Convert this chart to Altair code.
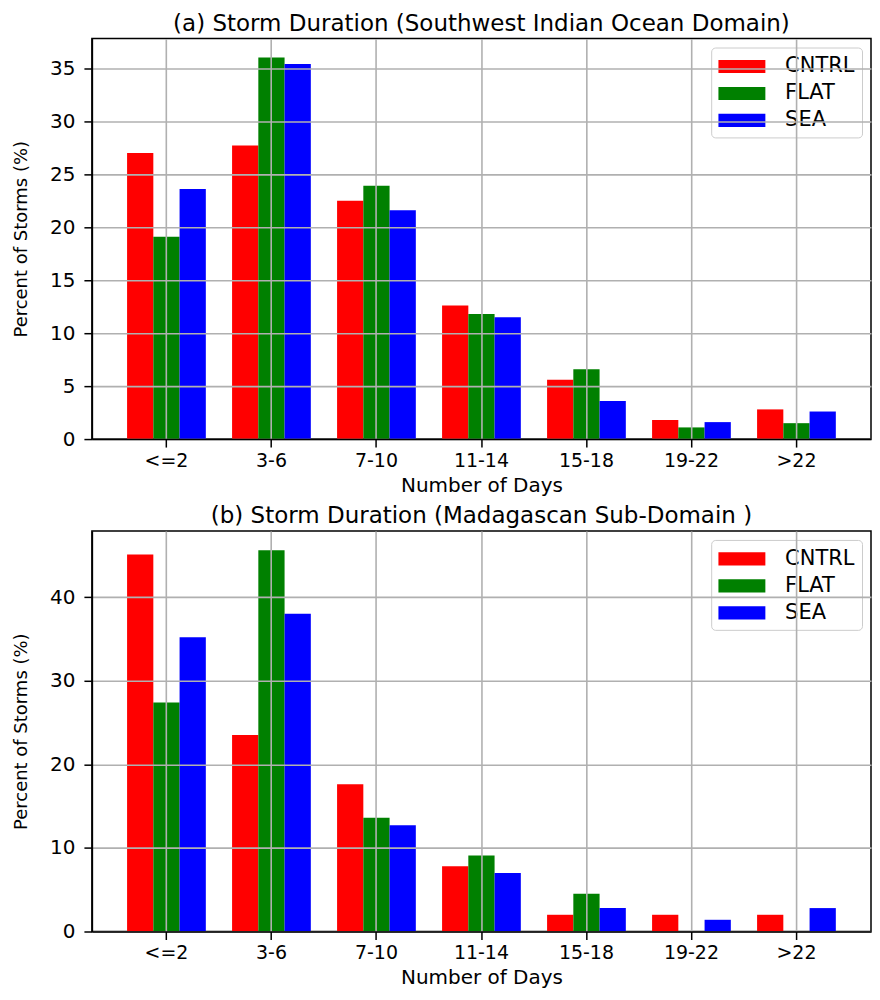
import altair as alt
import pandas as pd

categories = ["<=2", "3-6", "7-10", "11-14", "15-18", "19-22", ">22"]
experiments = ["CNTRL", "FLAT", "SEA"]
colors = ["#ff0000", "#008000", "#0000ff"]

cntrl_a = [27.0, 27.7, 22.5, 12.6, 5.6, 1.8, 2.8]
flat_a = [19.1, 36.0, 23.9, 11.8, 6.6, 1.1, 1.5]
sea_a = [23.6, 35.4, 21.6, 11.5, 3.6, 1.6, 2.6]

cntrl_b = [45.1, 23.5, 17.6, 7.8, 2.0, 2.0, 2.0]
flat_b = [27.4, 45.6, 13.6, 9.1, 4.5, 0.0, 0.0]
sea_b = [35.2, 38.0, 12.7, 7.0, 2.8, 1.4, 2.8]

title_a = "(a) Storm Duration (Southwest Indian Ocean Domain)"
title_b = "(b) Storm Duration (Madagascan Sub-Domain )"
ticks_a = [0, 5, 10, 15, 20, 25, 30, 35]
ticks_b = [0, 10, 20, 30, 40]
ymax_a = 37.8
ymax_b = 47.9

W = 780
H = 401
FONT = "DejaVu Sans"


def frame(c, f, s):
    rows = []
    for name, vals in zip(experiments, [c, f, s]):
        for cat, v in zip(categories, vals):
            rows.append({"Days": cat, "Experiment": name, "Percent": v})
    return pd.DataFrame(rows)


def panel(df, title, ticks, ymax):
    bars = alt.Chart(df).mark_bar(stroke=None).encode(
        x=alt.X("Days:N", sort=categories,
                scale=alt.Scale(paddingInner=0.25, paddingOuter=0.335),
                axis=alt.Axis(title="Number of Days", labelAngle=0, grid=True,
                              bandPosition=0.5, zindex=1,
                              gridColor="#b0b0b0", gridWidth=1.6,
                              domainColor="#000000", domainWidth=1.5,
                              tickColor="#000000", tickWidth=1.5, tickSize=8,
                              labelFont=FONT, labelFontSize=19, labelPadding=4,
                              labelColor="#000000",
                              titleFont=FONT, titleFontSize=20, titlePadding=5,
                              titleFontWeight="normal", titleColor="#000000")),
        xOffset=alt.XOffset("Experiment:N", sort=experiments,
                            scale=alt.Scale(paddingInner=0, paddingOuter=0)),
        y=alt.Y("Percent:Q",
                scale=alt.Scale(domain=[0, ymax], nice=False, zero=True),
                axis=alt.Axis(title="Percent of Storms (%)", values=ticks,
                              grid=True, zindex=1,
                              gridColor="#b0b0b0", gridWidth=1.6,
                              domainColor="#000000", domainWidth=1.5,
                              tickColor="#000000", tickWidth=1.5, tickSize=8,
                              labelFont=FONT, labelFontSize=20, labelPadding=9,
                              labelColor="#000000",
                              titleFont=FONT, titleFontSize=18, titlePadding=19,
                              titleFontWeight="normal", titleColor="#000000")),
        color=alt.Color("Experiment:N", sort=experiments,
                        scale=alt.Scale(domain=experiments, range=colors),
                        legend=alt.Legend(
                            title=None, orient="none", legendX=620, legendY=9,
                            symbolType="M-1,-0.56L3,-0.56L3,0.56L-1,0.56Z",
                            symbolSize=552, symbolStrokeWidth=0,
                            labelFontSize=21, labelFont=FONT, labelColor="#000000",
                            labelOffset=43, rowPadding=5,
                            padding=7, fillColor="#ffffff",
                            strokeColor="#cccccc", cornerRadius=4)),
    )
    return bars.properties(
        width=W, height=H,
        title=alt.TitleParams(title, fontSize=23, font=FONT, fontWeight="normal",
                              anchor="middle", offset=3, color="#000000"),
    )


chart_a = panel(frame(cntrl_a, flat_a, sea_a), title_a, ticks_a, ymax_a)
chart_b = panel(frame(cntrl_b, flat_b, sea_b), title_b, ticks_b, ymax_b)

chart = alt.vconcat(chart_a, chart_b, spacing=8).resolve_scale(
    y="independent", color="shared"
).resolve_legend(color="independent").properties(
    padding={"left": 3, "top": 3, "right": 0, "bottom": 0},
    background="#ffffff",
).configure_view(stroke="#000000", strokeWidth=1.5)

chart.save("out.html", embed_options={"renderer": "svg", "actions": False})
